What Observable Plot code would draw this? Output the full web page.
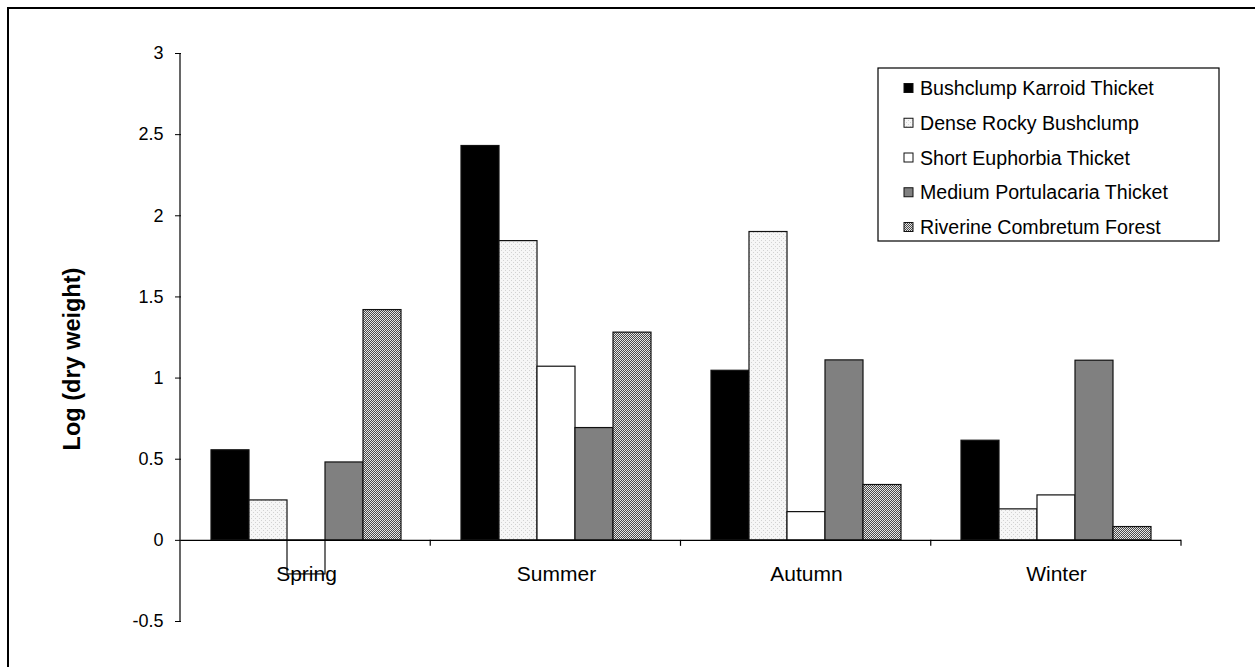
<!DOCTYPE html>
<html>
<head>
<meta charset="utf-8">
<script src="https://cdn.jsdelivr.net/npm/d3@7"></script>
<script src="https://cdn.jsdelivr.net/npm/@observablehq/plot@0.6"></script>
<style>
  html, body { margin: 0; padding: 0; background: #fff; }
  #chart svg { display: block; }
</style>
</head>
<body>
<div id="chart"></div>
<script>
// Seasonal dry-weight values (log scale) per thicket / forest type
const seasons = ["Spring", "Summer", "Autumn", "Winter"];
const vegetationTypes = [
  "Bushclump Karroid Thicket",
  "Dense Rocky Bushclump",
  "Short Euphorbia Thicket",
  "Medium Portulacaria Thicket",
  "Riverine Combretum Forest"
];
const bushclumpKarroid   = [0.555, 2.43, 1.045, 0.614];
const denseRocky         = [0.246, 1.844, 1.90, 0.191];
const shortEuphorbia     = [-0.21, 1.07, 0.174, 0.277];
const mediumPortulacaria = [0.48, 0.692, 1.109, 1.107];
const riverineCombretum  = [1.419, 1.28, 0.341, 0.082];
const yTicks = [-0.5, 0, 0.5, 1, 1.5, 2, 2.5, 3];
const yTickLabels = ["-0.5", "0", "0.5", "1", "1.5", "2", "2.5", "3"];
const yLabel = "Log (dry weight)";

// fills: solid or SVG patterns defined below
const fills = ["#000000", "url(#dense-stipple)", "#ffffff", "#808080", "url(#riverine-check)"];

const seriesValues = [bushclumpKarroid, denseRocky, shortEuphorbia, mediumPortulacaria, riverineCombretum];
const rows = seasons.flatMap((season, i) =>
  vegetationTypes.map((type, j) => ({season, type, value: seriesValues[j][i]}))
);

const W = 1255, H = 667;
const font = "'Liberation Sans', Arial, sans-serif";

const plot = Plot.plot({
  width: W,
  height: H,
  marginLeft: 180,
  marginRight: 74,
  marginTop: 53,
  marginBottom: 46,
  style: {fontFamily: font, fontSize: "18px", background: "#fff", color: "#000"},
  fx: {domain: seasons, padding: 0, axis: null},
  x: {domain: vegetationTypes, paddingInner: 0, paddingOuter: 0.72, axis: null},
  y: {domain: [-0.5, 3], axis: null},
  color: {type: "ordinal", domain: vegetationTypes, range: fills},
  marks: [
    Plot.barY(rows, {
      fx: "season", x: "type", y: "value", fill: "type",
      stroke: "#111", strokeWidth: 1.2, inset: 0
    }),
    Plot.ruleY([0], {stroke: "#000", strokeWidth: 1.2}),
    Plot.text(seasons, {fx: d => d, y: 0, text: d => d, dy: 34, fontSize: 21, fill: "#000"}),
    Plot.axisY({
      ticks: yTicks,
      tickSize: 6,
      tickPadding: 12,
      tickFormat: d => yTickLabels[yTicks.indexOf(d)],
      fontSize: 18,
      label: null
    })
  ]
});

document.getElementById("chart").appendChild(plot);

// Extra decorations drawn with Plot's own scales
const svg = d3.select(plot);
const fxDesc = plot.scale("fx");
const yDesc = plot.scale("y");
const fx = d3.scaleBand().domain(fxDesc.domain).range(fxDesc.range).padding(0);
const y = d3.scaleLinear().domain(yDesc.domain).range(yDesc.range);

// patterns
const defs = svg.insert("defs", ":first-child");
const stip = defs.append("pattern").attr("id", "dense-stipple")
  .attr("patternUnits", "userSpaceOnUse").attr("width", 4).attr("height", 4);
stip.append("rect").attr("width", 4).attr("height", 4).attr("fill", "#f6f6f6");
[[0, 0], [2, 2]].forEach(([px, py]) =>
  stip.append("rect").attr("x", px).attr("y", py).attr("width", 1).attr("height", 1).attr("fill", "#d2d2d2"));
const chk = defs.append("pattern").attr("id", "riverine-check")
  .attr("patternUnits", "userSpaceOnUse").attr("width", 2).attr("height", 2);
chk.append("rect").attr("width", 2).attr("height", 2).attr("fill", "#e6e6e6");
[[0, 0], [1, 1]].forEach(([px, py]) =>
  chk.append("rect").attr("x", px).attr("y", py).attr("width", 1).attr("height", 1).attr("fill", "#4a4a4a"));

const deco = svg.append("g").attr("fill", "none").attr("stroke", "#000");
const x0 = fxDesc.range[0];
// y axis line
deco.append("line").attr("x1", x0).attr("x2", x0)
  .attr("y1", y(-0.5)).attr("y2", y(3)).attr("stroke-width", 1.2);
// category boundary ticks under the zero line
seasons.forEach(s => {
  const xb = fx(s) + fx.bandwidth();
  deco.append("line").attr("x1", xb).attr("x2", xb)
    .attr("y1", y(0)).attr("y2", y(0) + 6).attr("stroke-width", 1.2);
});
// outer frame (top and left edges)
deco.append("path").attr("d", `M8,${H} V8 H${W}`).attr("stroke-width", 2);

// y axis title
svg.append("text")
  .attr("transform", `translate(72,359) rotate(-90)`)
  .attr("text-anchor", "middle").attr("dominant-baseline", "central")
  .attr("font-family", font).attr("font-weight", "bold").attr("font-size", 23.5)
  .attr("fill", "#000").text(yLabel);

// legend
const legend = svg.append("g").attr("font-family", font).attr("font-size", 19.6)
  .attr("text-anchor", "start");
legend.append("rect").attr("x", 878).attr("y", 68).attr("width", 341).attr("height", 173)
  .attr("fill", "#fff").attr("stroke", "#000").attr("stroke-width", 1.2);
vegetationTypes.forEach((t, i) => {
  const cy = 88 + i * 34.75;
  legend.append("rect").attr("x", 904).attr("y", cy - 4.5).attr("width", 9).attr("height", 9)
    .attr("fill", fills[i]).attr("stroke", "#111").attr("stroke-width", 1);
  legend.append("text").attr("x", 920).attr("y", cy).attr("dominant-baseline", "central")
    .attr("text-anchor", "start").attr("fill", "#000").text(t);
});
</script>
</body>
</html>
